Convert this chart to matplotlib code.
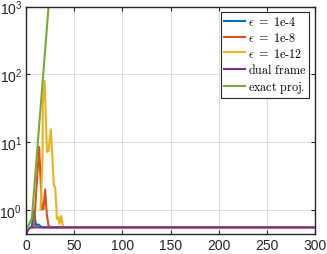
#!/usr/bin/env python3
"""Convergence of the projection error for several tolerances (log scale)."""

import matplotlib.pyplot as plt
import matplotlib.ticker as mticker

# iteration index / error values
eps4_x = [5, 5.9, 7.6, 10.4, 12.8, 16.3, 300]
eps4_y = [0.553, 0.56, 0.98, 0.59, 0.61, 0.553, 0.553]

eps8_x = [7, 8.3, 13.5, 16.3, 18.0, 19.7, 21.5, 23.2, 24.9, 300]
eps8_y = [0.553, 0.62, 8.5, 1.03, 1.03, 2.0, 0.85, 0.59, 0.553, 0.553]

eps12_x = [15, 17.0, 17.3, 19.2, 21.6, 23.2, 25.6, 28.8, 30.1, 31.2, 31.9,
           33.5, 34.6, 36.3, 37.7, 38.8, 300]
eps12_y = [1.0, 6.0, 35, 80, 7.2, 7.4, 15.5, 2.3, 2.2, 1.23, 0.74,
           0.78, 0.62, 0.82, 0.62, 0.553, 0.553]

dual_x = [0, 1, 2, 3.5, 5, 300]
dual_y = [0.44, 0.47, 0.51, 0.545, 0.553, 0.553]

exact_x = [1, 2.4, 5.9, 23.5]
exact_y = [0.57, 0.59, 0.75, 1100]

labels = [r"$\epsilon\ =\ \text{1e-4}$", r"$\epsilon\ =\ \text{1e-8}$",
          r"$\epsilon\ =\ \text{1e-12}$", r"$\text{dual frame}$",
          r"$\text{exact proj.}$"]
colors = ["#0072BD", "#D95319", "#EDB120", "#7E2F8E", "#77AC30"]

plt.rcParams["font.family"] = ["Liberation Sans", "DejaVu Sans"]
plt.rcParams["mathtext.fontset"] = "cm"

fig = plt.figure(figsize=(3.27, 2.55), dpi=100)
ax = fig.add_axes([0.08, 0.078, 0.883, 0.892])

series = [(eps4_x, eps4_y), (eps8_x, eps8_y), (eps12_x, eps12_y),
          (dual_x, dual_y), (exact_x, exact_y)]
for (x, y), c, lab in zip(series, colors, labels):
    ax.plot(x, y, color=c, linewidth=1.5, label=lab)

ax.set_yscale("log")
ax.set_xlim(0, 300)
ax.set_ylim(0.44, 1000)
ax.set_xticks([0, 50, 100, 150, 200, 250, 300])
ax.set_yticks([1, 10, 100, 1000])
ax.yaxis.set_major_formatter(mticker.LogFormatterSciNotation())
ax.yaxis.set_minor_locator(mticker.NullLocator())

ax.tick_params(direction="in", top=True, right=True, labelsize=10,
               length=3, width=0.8, color="#262626", labelcolor="#262626", pad=3)
ax.grid(True, color="#dcdcdc", linewidth=0.7)
ax.set_axisbelow(True)
for s in ax.spines.values():
    s.set_color("#262626")
    s.set_linewidth(1.0)

leg = ax.legend(loc="upper right", bbox_to_anchor=(0.98, 0.975), fontsize=8.7,
                handlelength=1.7, handletextpad=0.25, borderpad=0.25,
                labelspacing=0.22, fancybox=False, framealpha=1,
                borderaxespad=0.0)
leg.get_frame().set_edgecolor("#262626")
leg.get_frame().set_linewidth(0.8)

fig.savefig("out.png", dpi=100)
